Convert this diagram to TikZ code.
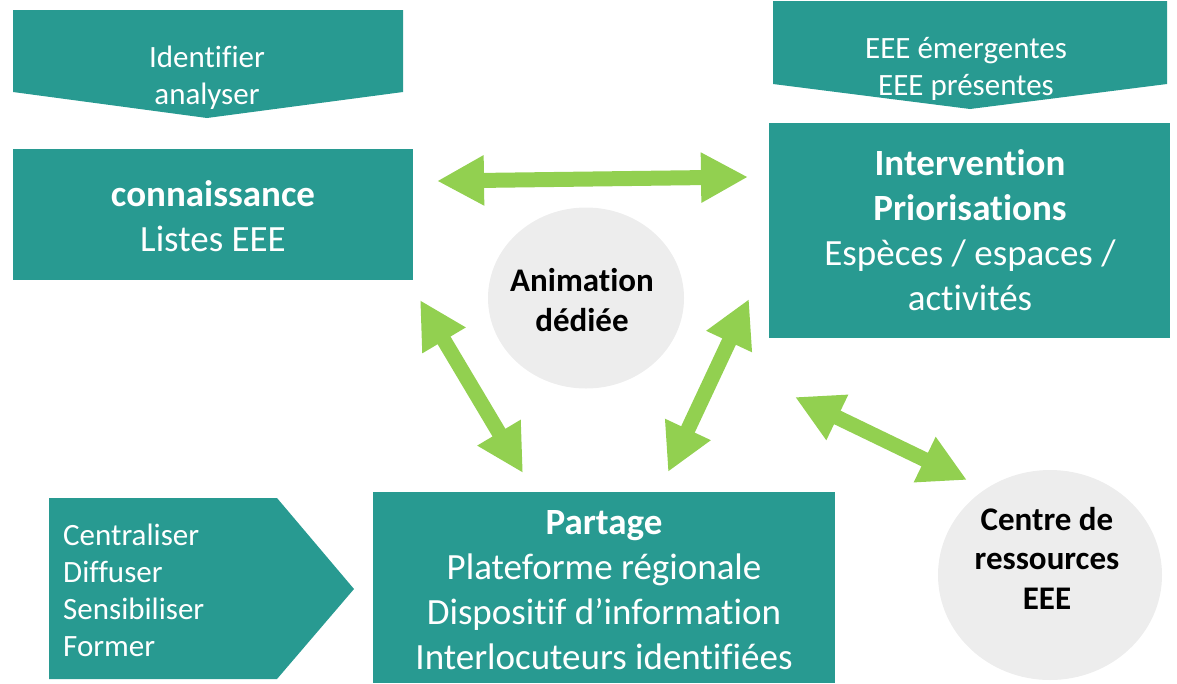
\documentclass[tikz,border=0pt]{standalone}
\usepackage{fontspec}
\setmainfont{Carlito}[Ligatures=NoCommon]
\usetikzlibrary{arrows.meta,shapes.geometric}
\definecolor{teal1}{HTML}{289A91}
\definecolor{grn}{HTML}{92D050}
\definecolor{lgray}{HTML}{EDEDED}
\tikzset{
  box/.style={fill=teal1, draw=none, inner sep=0pt},
  wtxt/.style={text=white, align=center, inner sep=0pt},
  bigtxt/.style={font=\fontsize{37}{45}\selectfont},
  smalltxt/.style={font=\fontsize{31}{37}\selectfont},
  circ/.style={ellipse, fill=lgray, draw=none, inner sep=0pt},
  ctxt/.style={text=black, align=center, font=\fontsize{33}{39.5}\selectfont\bfseries, inner sep=0pt},
  fatarrow/.style={draw=grn, line width=15pt,
    {Triangle[length=47pt,width=47pt]}-{Triangle[length=47pt,width=47pt]}}
}
\begin{document}
\begin{tikzpicture}[x=1pt,y=-1pt]
\useasboundingbox (0,0) rectangle (1177,683);
% top-left chevron
\fill[teal1] (13,10) -- (403,10) -- (403,92) -- (207,118) -- (13,92) -- cycle;
\node[wtxt, smalltxt] (ident) at (207,78) {Identifier\\analyser};
% top-right chevron
\fill[teal1] (773,1) -- (1167,1) -- (1167,84) -- (970,109) -- (773,84) -- cycle;
\node[wtxt, smalltxt] (eee) at (966,69) {EEE émergentes\\EEE présentes};
% left pentagon
\fill[teal1] (49,498) -- (277,498) -- (354,589) -- (277,679) -- (49,679) -- cycle;
\node[text=white, align=left, inner sep=0pt, smalltxt, anchor=west] (centr) at (63,590) {Centraliser\\Diffuser\\Sensibiliser\\Former};
% boxes
\node[box, minimum width=400pt, minimum height=131pt] (conn) at (213,214.5) {};
\node[wtxt, bigtxt] (conntxt) at (213,216) {\textbf{connaissance}\\Listes EEE};
\node[box, minimum width=401pt, minimum height=215pt] (interv) at (969.5,230.5) {};
\node[wtxt, bigtxt] (intervtxt) at (970,230) {\textbf{Intervention}\\\textbf{Priorisations}\\Espèces / espaces /\\activités};
\node[box, minimum width=462pt, minimum height=191pt] (part) at (604,587.5) {};
\node[wtxt, bigtxt] (parttxt) at (604,590) {\textbf{Partage}\\Plateforme régionale\\Dispositif d’information\\Interlocuteurs identifiées};
% circles
\node[circ, minimum width=196pt, minimum height=181pt] (anim) at (586,298) {};
\node[ctxt] (animtxt) at (582,300) {Animation\\dédiée};
\node[circ, minimum width=224pt, minimum height=210pt] (centre) at (1050,575) {};
\node[ctxt] (centretxt) at (1047,558) {Centre de\\ressources\\EEE};
% arrow endpoints
\coordinate (h1) at (437,181);
\coordinate (h2) at (748,177);
\coordinate (l1) at (420,300);
\coordinate (l2) at (523,473);
\coordinate (r1) at (749,299);
\coordinate (r2) at (668,472);
\coordinate (d1) at (795,397);
\coordinate (d2) at (967,480);
\draw[fatarrow] (h1) -- (h2);
\draw[fatarrow] (l1) -- (l2);
\draw[fatarrow] (r1) -- (r2);
\draw[fatarrow] (d1) -- (d2);
\end{tikzpicture}
\end{document}
